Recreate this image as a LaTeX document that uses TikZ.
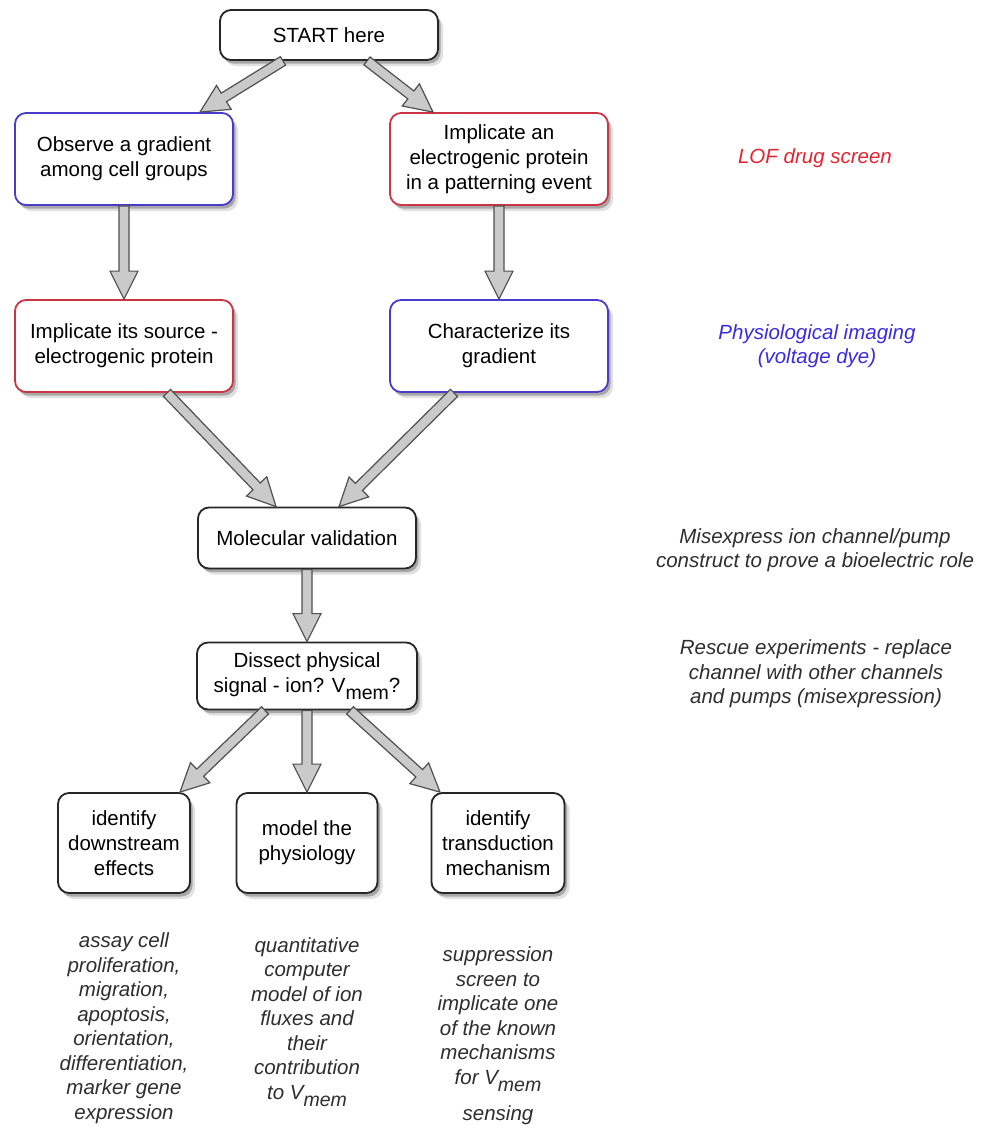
\documentclass[tikz,border=0pt]{standalone}
\usepackage{fontspec}
\setmainfont{Liberation Sans}
\usetikzlibrary{calc,shadows}
\definecolor{boxblue}{HTML}{4A3CCB}
\definecolor{boxred}{HTML}{CC3545}
\definecolor{notered}{HTML}{E42530}
\definecolor{noteblue}{HTML}{3B2BE0}
\definecolor{notegray}{HTML}{2E2E2E}
\definecolor{arrowfill}{HTML}{CACACA}
\definecolor{arrowline}{HTML}{505050}
\newcommand\Vmem{V\raisebox{-7pt}{\fontsize{19.5}{20}\selectfont mem}}
\tikzset{
  box/.style={draw=black!85, line width=1.8pt, rounded corners=11pt, fill=white,
    align=center, font=\fontsize{20.5}{25}\selectfont, inner sep=0pt,
    drop shadow={shadow xshift=5pt, shadow yshift=-6pt, opacity=0.12, fill=black},
    drop shadow={shadow xshift=2.5pt, shadow yshift=-3.5pt, opacity=0.25, fill=black}},
  bluebox/.style={box, draw=boxblue},
  redbox/.style={box, draw=boxred},
  note/.style={font=\fontsize{20.5}{24.5}\selectfont\itshape, text=notegray, align=center},
  fat/.style={fill=arrowfill, draw=arrowline, line width=1.2pt, line join=miter},
}
\newcommand\fatarrow[2]{%
  \filldraw[fat] let \p1=(#1), \p2=(#2),
    \n1={atan2(\y2-\y1,\x2-\x1)}, \n2={veclen(\x2-\x1,\y2-\y1)} in
    ($(\p1)+({\n1+90}:5pt)$)
    -- ($(\p1)+({\n1}:{\n2-28pt})+({\n1+90}:5pt)$)
    -- ($(\p1)+({\n1}:{\n2-28pt})+({\n1+90}:14pt)$)
    -- (\p2)
    -- ($(\p1)+({\n1}:{\n2-28pt})+({\n1-90}:14pt)$)
    -- ($(\p1)+({\n1}:{\n2-28pt})+({\n1-90}:5pt)$)
    -- ($(\p1)+({\n1-90}:5pt)$) -- cycle;}
\begin{document}
\begin{tikzpicture}[x=1pt,y=-1pt]
\fill[white] (0,0) rectangle (984,1125);
\useasboundingbox (0,0) rectangle (984,1125);

\node[box, minimum width=218pt, minimum height=50pt] (start) at (329,35) {START here};
\node[bluebox, minimum width=218pt, minimum height=92pt] (obs) at (124,159) {Observe a gradient\\among cell groups};
\node[redbox, minimum width=218pt, minimum height=92pt] (impl) at (499,159) {Implicate an\\electrogenic protein\\in a patterning event};
\node[redbox, minimum width=218pt, minimum height=92pt] (src) at (124,346) {Implicate its source -\\electrogenic protein};
\node[bluebox, minimum width=218pt, minimum height=92pt] (char) at (499,346) {Characterize its\\gradient};
\node[box, minimum width=218pt, minimum height=61pt] (mol) at (307,538) {Molecular validation};
\node[box, minimum width=220pt, minimum height=67pt] (dis) at (307,676) {Dissect physical\\signal - ion? \Vmem?};
\node[box, minimum width=132pt, minimum height=100pt] (down) at (124,843) {identify\\downstream\\effects};
\node[box, minimum width=141pt, minimum height=100pt] (model) at (307,843) {model the\\physiology};
\node[box, minimum width=133pt, minimum height=100pt] (trans) at (498,843) {identify\\transduction\\mechanism};

\node[note, text=notered] (lof) at (815,158) {LOF drug screen};
\node[note, text=noteblue] (phys) at (817,346) {Physiological imaging\\(voltage dye)};
\node[note] (mis) at (815,550) {Misexpress ion channel/pump\\construct to prove a bioelectric role};
\node[note] (res) at (816,674) {Rescue experiments - replace\\channel with other channels\\and pumps (misexpression)};
\node[note] (n1) at (124,1028) {assay cell\\proliferation,\\migration,\\apoptosis,\\orientation,\\differentiation,\\marker gene\\expression};
\node[note] (n2) at (307,1022) {quantitative\\computer\\model of ion\\fluxes and\\their\\contribution\\to \Vmem};
\node[note] (n3) at (498,1036) {suppression\\screen to\\implicate one\\of the known\\mechanisms\\for \Vmem\\[12pt]sensing};

\fatarrow{[xshift=-46pt]start.south}{[xshift=76pt]obs.north}
\fatarrow{[xshift=38pt]start.south}{[xshift=-66pt]impl.north}
\fatarrow{obs.south}{src.north}
\fatarrow{impl.south}{char.north}
\fatarrow{[xshift=43pt]src.south}{[xshift=-31pt]mol.north}
\fatarrow{[xshift=-45pt]char.south}{[xshift=32pt]mol.north}
\fatarrow{mol.south}{dis.north}
\fatarrow{[xshift=-42pt]dis.south}{[xshift=56pt]down.north}
\fatarrow{dis.south}{model.north}
\fatarrow{[xshift=43pt]dis.south}{[xshift=-58pt]trans.north}
\end{tikzpicture}
\end{document}
